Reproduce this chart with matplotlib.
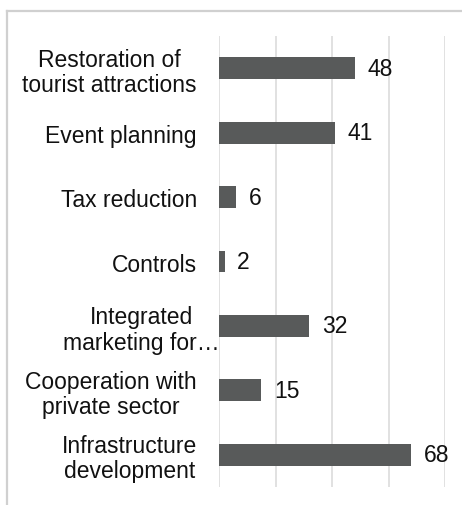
import matplotlib.pyplot as plt
from matplotlib.lines import Line2D
from matplotlib.transforms import ScaledTranslation

# measures and how many respondents picked each
categories = [
    "Restoration of\ntourist attractions",
    "Event planning",
    "Tax reduction",
    "Controls",
    "Integrated\nmarketing for…",
    "Cooperation with\nprivate sector",
    "Infrastructure\ndevelopment",
]
counts = [48, 41, 6, 2, 32, 15, 68]
x_ticks = [0, 20, 40, 60, 80]

BAR_COLOR = "#585a5a"
GRID_COLOR = "#d9d9d9"
TEXT_COLOR = "#111111"
FS = 16.5

plt.rcParams["font.family"] = ["Liberation Sans", "DejaVu Sans"]

W, H = 462, 506
fig = plt.figure(figsize=(W / 100, H / 100), dpi=100)
ax = fig.add_axes([219 / W, 1 - 488 / H, (445 - 219) / W, (488 - 37) / H])

pos = list(range(len(categories)))
ax.barh(pos, counts, height=0.34, color=BAR_COLOR, zorder=3)

for y, v in zip(pos, counts):
    ax.annotate(str(v), (v, y), xytext=(9, 0), textcoords="offset points",
                va="center", ha="left", fontsize=FS, color=TEXT_COLOR)

ax.set_xlim(0, 80)
ax.set_ylim(len(categories) - 0.5, -0.5)
ax.set_xticks(x_ticks)
ax.set_xticklabels([])
ax.tick_params(axis="x", length=0)
ax.grid(axis="x", color=GRID_COLOR, lw=1.1, zorder=0)

ax.set_yticks(pos)
ax.set_yticklabels(categories, fontsize=FS, color=TEXT_COLOR,
                   multialignment="center", linespacing=1.12)
ax.tick_params(axis="y", length=0, pad=16)

# the truncated label spills a bit further towards the axis
lab = ax.get_yticklabels()[4]
lab.set_transform(lab.get_transform() + ScaledTranslation(0.23, 0, fig.dpi_scale_trans))

for s in ax.spines.values():
    s.set_visible(False)

# outer chart border (only the left and top edges are in frame)
fig.add_artist(Line2D([7 / W, 7 / W], [0, 1 - 12 / H], color="#d0d0d0", lw=1.6))
fig.add_artist(Line2D([7 / W, 1], [1 - 12 / H, 1 - 12 / H], color="#d0d0d0", lw=1.6))

fig.savefig("out.png", dpi=100)
